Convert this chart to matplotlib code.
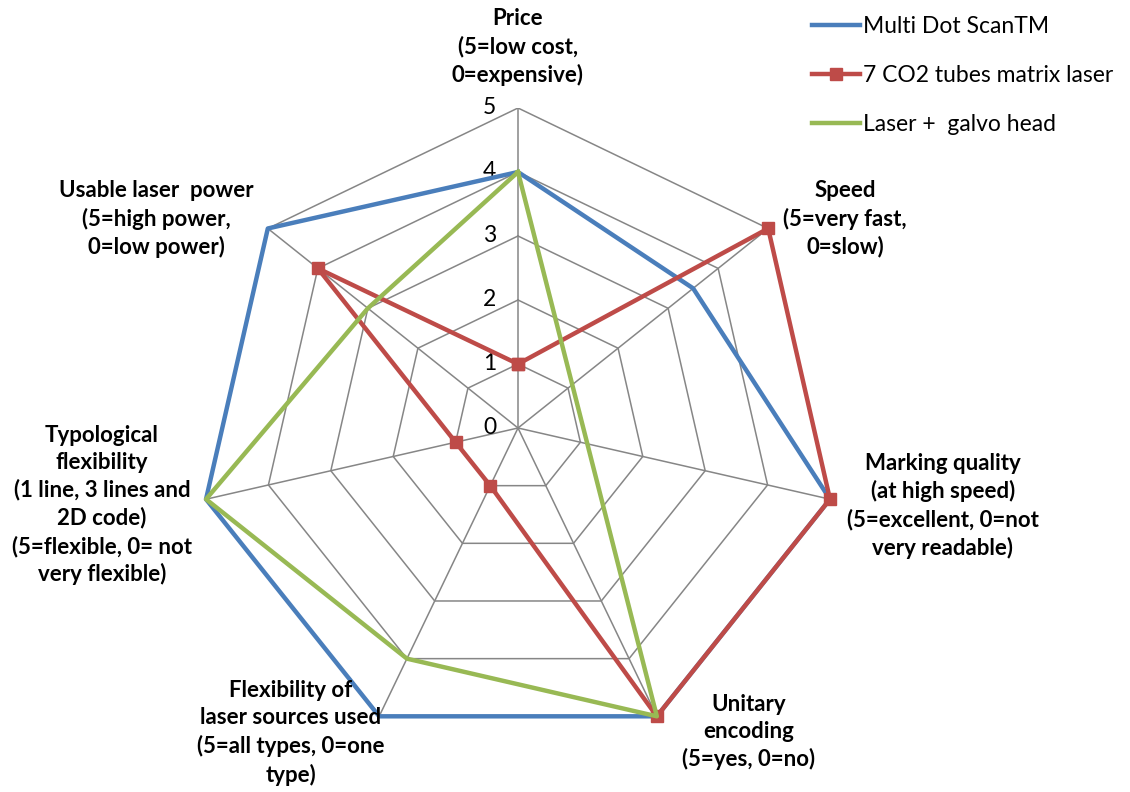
import numpy as np
import matplotlib
matplotlib.use("Agg")
import matplotlib.pyplot as plt
from matplotlib.lines import Line2D

plt.rcParams['font.family'] = ['Lato', 'DejaVu Sans']

# data
categories = [
    "Price\n(5=low cost,\n0=expensive)",
    "Speed\n(5=very fast,\n0=slow)",
    "Marking quality\n(at high speed)\n(5=excellent, 0=not\nvery readable)",
    "Unitary\nencoding\n(5=yes, 0=no)",
    "Flexibility of\nlaser sources used\n(5=all types, 0=one\ntype)",
    "Typological\nflexibility\n(1 line, 3 lines and\n2D code)\n(5=flexible, 0= not\nvery flexible)",
    "Usable laser  power\n(5=high power,\n0=low power)",
]
multiDot = [4, 3.5, 5, 5, 5, 5, 5]
co2Matrix = [1, 5, 5, 5, 1, 1, 4]
galvoHead = [4, np.nan, np.nan, 5, 4, 5, 3]
seriesNames = ["Multi Dot ScanTM", "7 CO2 tubes matrix laser", "Laser +  galvo head"]
ticks = [0, 1, 2, 3, 4, 5]

W, H = 1130, 792
fig = plt.figure(figsize=(W / 100, H / 100), dpi=100)

cx, cy, rad = 518, 428, 320
ax = fig.add_axes([(cx - rad) / W, (H - cy - rad) / H, 2 * rad / W, 2 * rad / H], projection='polar')
ax.set_theta_zero_location('N')
ax.set_theta_direction(-1)
ax.set_ylim(0, 5)
ax.grid(False)
ax.spines['polar'].set_visible(False)
ax.set_xticks([])
ax.set_yticks([])
ax.patch.set_alpha(0)

n = len(categories)
angles = np.arange(n) * 2 * np.pi / n
gridCol = '#868686'

# heptagon rings + spokes
for t in ticks[1:]:
    ax.plot(np.append(angles, angles[0]), [t] * (n + 1), color=gridCol, lw=1.1, zorder=1)
for a in angles:
    ax.plot([a, a], [0, 5], color=gridCol, lw=1.1, zorder=1)

for t in ticks:
    ax.annotate(str(t), xy=(0, t), xytext=(-22, 0), textcoords='offset pixels',
                ha='right', va='center', fontsize=16.5, color='black')


def closed(vals):
    idx = [i for i, v in enumerate(vals) if not np.isnan(v)]
    idx = idx + [idx[0]]
    return angles[idx], np.array(vals)[idx]


a, r = closed(multiDot)
ax.plot(a, r, color='#4a7ebb', lw=3.2, zorder=3, clip_on=False)
a, r = closed(co2Matrix)
ax.plot(a, r, color='#be4b48', lw=3.2, marker='s', markersize=9, zorder=4, clip_on=False)
a, r = closed(galvoHead)
ax.plot(a, r, color='#98b954', lw=3.2, zorder=5, clip_on=False)

# category labels (pixel centres of text blocks)
labelPos = [(518, 47), (845, 219), (943, 506), (749, 732), (291, 733), (102, 505), (156, 219)]
for lab, (px, py) in zip(categories, labelPos):
    fig.text(px / W, 1 - py / H, lab, ha='center', va='center', fontsize=16,
             fontweight='bold', linespacing=1.36, multialignment='center')

handles = [
    Line2D([], [], color='#4a7ebb', lw=3.2),
    Line2D([], [], color='#be4b48', lw=3.2, marker='s', markersize=9),
    Line2D([], [], color='#98b954', lw=3.2),
]
fig.legend(handles, seriesNames, loc='upper left', bbox_to_anchor=(803 / W, 1 - 7 / H),
           frameon=False, fontsize=16.5, handlelength=2.1, handletextpad=0.1,
           labelspacing=1.22, borderaxespad=0)

fig.savefig("out.png", dpi=100)
